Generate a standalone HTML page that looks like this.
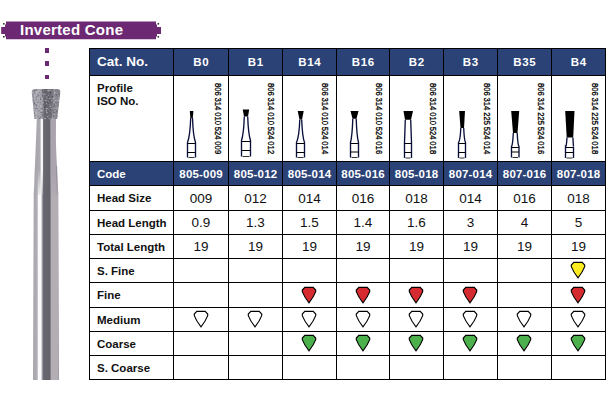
<!DOCTYPE html>
<html><head><meta charset="utf-8"><style>
html,body{margin:0;padding:0;background:#fff;}
body{width:612px;height:400px;position:relative;overflow:hidden;font-family:"Liberation Sans",sans-serif;}
.a{position:absolute;}
.hl{position:absolute;height:1px;background:#000;}
.vl{position:absolute;width:1px;background:#000;}
.c{position:absolute;display:flex;align-items:center;justify-content:center;white-space:nowrap;}
.lab{position:absolute;font-weight:bold;font-size:11.5px;color:#111;white-space:nowrap;}
.val{font-size:13.5px;color:#111;}
.hd{font-weight:bold;font-size:11.5px;letter-spacing:0.6px;text-indent:0.6px;color:#fff;}
.cd{font-weight:bold;font-size:11.5px;letter-spacing:0.2px;text-indent:0.2px;padding-top:1px;box-sizing:border-box;color:#fff;}
.iso{position:absolute;font-size:9px;line-height:10px;font-weight:normal;color:#000;-webkit-text-stroke:0.3px #000;word-spacing:-0.35px;white-space:nowrap;transform-origin:0 0;transform:rotate(90deg) scaleX(0.85);}
</style></head><body>

<svg class="a" style="left:0;top:0" width="170" height="45" viewBox="0 0 170 45">
<path d="M6 21.5 H156 V24.5 H157 V27 H161 V34 H157 V36.5 H156 V39.3 H6 V36.5 H5 V34 H1.2 V27 H5 V24.5 H6 Z" fill="#6c2872"/>
<rect x="3" y="23" width="1.6" height="1.6" fill="#333"/>
<rect x="3" y="36" width="1.6" height="1.6" fill="#333"/>
<rect x="157.5" y="23" width="1.6" height="1.6" fill="#333"/>
<rect x="157.5" y="36" width="1.6" height="1.6" fill="#333"/>
</svg>
<div class="a" style="left:20px;top:21px;font-size:15px;letter-spacing:0.25px;font-weight:bold;color:#fff;line-height:18px;">Inverted Cone</div>
<div class="a" style="left:45px;top:48px;width:4px;height:5px;background:#6c2872"></div>
<div class="a" style="left:45px;top:61px;width:4px;height:5px;background:#6c2872"></div>
<div class="a" style="left:45px;top:75px;width:4px;height:4px;background:#6c2872"></div>
<svg class="a" style="left:0;top:80px" width="90" height="310" viewBox="0 80 90 310">
<defs>
<linearGradient id="sh" x1="33" x2="59" y1="0" y2="0" gradientUnits="userSpaceOnUse">
<stop offset="0.0000" stop-color="#a8a8aa"/>
<stop offset="0.0885" stop-color="#adadb0"/>
<stop offset="0.1000" stop-color="#aca6b0"/>
<stop offset="0.1692" stop-color="#b8b4bc"/>
<stop offset="0.1885" stop-color="#fafafa"/>
<stop offset="0.3077" stop-color="#fafafa"/>
<stop offset="0.3385" stop-color="#c4c0c8"/>
<stop offset="0.3769" stop-color="#8a8692"/>
<stop offset="0.4077" stop-color="#67656d"/>
<stop offset="0.6538" stop-color="#64626a"/>
<stop offset="0.6769" stop-color="#8a8690"/>
<stop offset="0.7115" stop-color="#b2aeb4"/>
<stop offset="0.9538" stop-color="#b2aeb4"/>
<stop offset="0.9808" stop-color="#a09aa6"/>
<stop offset="1.0000" stop-color="#9c98a0"/>
</linearGradient>
<linearGradient id="nk" x1="36" x2="57" y1="0" y2="0" gradientUnits="userSpaceOnUse">
<stop offset="0" stop-color="#a8a6ac"/>
<stop offset="0.205" stop-color="#aeacb2"/>
<stop offset="0.23" stop-color="#f6f6f6"/>
<stop offset="0.32" stop-color="#f6f6f6"/>
<stop offset="0.36" stop-color="#6a6870"/>
<stop offset="0.67" stop-color="#636169"/>
<stop offset="0.70" stop-color="#aaa3b0"/>
<stop offset="0.93" stop-color="#aaa3b0"/>
<stop offset="1" stop-color="#8a8290"/>
</linearGradient>
<linearGradient id="hg" x1="32" x2="60" y1="0" y2="0" gradientUnits="userSpaceOnUse">
<stop offset="0" stop-color="#8e8c94"/>
<stop offset="0.15" stop-color="#aaa8b0"/>
<stop offset="0.35" stop-color="#a09ea6"/>
<stop offset="0.45" stop-color="#66646c"/>
<stop offset="0.65" stop-color="#6a6870"/>
<stop offset="0.78" stop-color="#8c8a92"/>
<stop offset="1" stop-color="#85838b"/>
</linearGradient>
<filter id="grit" x="0" y="0" width="1" height="1" color-interpolation-filters="sRGB">
<feTurbulence type="fractalNoise" baseFrequency="0.5" numOctaves="2" seed="11" result="n"/>
<feColorMatrix type="matrix" in="n" values="0 0 0 0 0.3  0 0 0 0 0.29  0 0 0 0 0.33  0 0 0 -3.5 1.75" result="d"/>
<feColorMatrix type="matrix" in="n" values="0 0 0 0 0.78  0 0 0 0 0.77  0 0 0 0 0.8  3.5 0 0 0 -1.75" result="l"/>
<feMerge><feMergeNode in="d"/><feMergeNode in="l"/></feMerge>
</filter>
<linearGradient id="nmg" x1="0" x2="0" y1="170" y2="200" gradientUnits="userSpaceOnUse"><stop offset="0" stop-color="#fff"/><stop offset="1" stop-color="#000"/></linearGradient>
<mask id="nm" maskUnits="userSpaceOnUse" x="0" y="80" width="90" height="310"><rect x="0" y="80" width="90" height="310" fill="url(#nmg)"/></mask>
<clipPath id="hc"><path d="M35 89 H57.3 Q60.4 89 60.3 92.2 L57.2 119 H34.4 L31.8 92.2 Q31.8 89 35 89 Z"/></clipPath>
</defs>
<path d="M35 166 Q35 180 33.7 194 L33 380 H59 L58.3 194 Q57.4 180 57.2 166 Z" fill="url(#sh)"/>
<path d="M36.8 118 H56 L55.9 140 Q56.4 165 58.3 195 H33.7 Q35 165 36 140 Z" fill="url(#nk)" mask="url(#nm)"/>
<path d="M35 89 H57.3 Q60.4 89 60.3 92.2 L57.2 119 H34.4 L31.8 92.2 Q31.8 89 35 89 Z" fill="url(#hg)"/>
<g clip-path="url(#hc)" opacity="0.75"><rect x="30" y="86" width="32" height="34" fill="#000" filter="url(#grit)"/></g>
</svg>
<div class="a" style="left:89px;top:48px;width:516px;height:27px;background:#2b4276"></div>
<div class="a" style="left:89px;top:161px;width:516px;height:24px;background:#2b4276"></div>
<div class="hl" style="left:89px;top:48px;width:517px"></div>
<div class="hl" style="left:89px;top:75px;width:517px"></div>
<div class="hl" style="left:89px;top:161px;width:517px"></div>
<div class="hl" style="left:89px;top:185px;width:517px"></div>
<div class="hl" style="left:89px;top:210px;width:517px"></div>
<div class="hl" style="left:89px;top:234px;width:517px"></div>
<div class="hl" style="left:89px;top:258px;width:517px"></div>
<div class="hl" style="left:89px;top:282px;width:517px"></div>
<div class="hl" style="left:89px;top:307px;width:517px"></div>
<div class="hl" style="left:89px;top:331px;width:517px"></div>
<div class="hl" style="left:89px;top:355px;width:517px"></div>
<div class="hl" style="left:89px;top:379px;width:517px"></div>
<div class="vl" style="left:89px;top:48px;height:332px"></div>
<div class="vl" style="left:173px;top:48px;height:332px"></div>
<div class="vl" style="left:228px;top:48px;height:332px"></div>
<div class="vl" style="left:282px;top:48px;height:332px"></div>
<div class="vl" style="left:336px;top:48px;height:332px"></div>
<div class="vl" style="left:389px;top:48px;height:332px"></div>
<div class="vl" style="left:443px;top:48px;height:332px"></div>
<div class="vl" style="left:497px;top:48px;height:332px"></div>
<div class="vl" style="left:551px;top:48px;height:332px"></div>
<div class="vl" style="left:605px;top:48px;height:332px"></div>
<div class="a" style="left:97px;top:54px;font-size:13.5px;font-weight:bold;color:#fff;line-height:16px">Cat. No.</div>
<div class="c hd" style="left:174px;top:49px;width:54px;height:26px">B0</div>
<div class="c hd" style="left:229px;top:49px;width:53px;height:26px">B1</div>
<div class="c hd" style="left:283px;top:49px;width:53px;height:26px">B14</div>
<div class="c hd" style="left:337px;top:49px;width:52px;height:26px">B16</div>
<div class="c hd" style="left:390px;top:49px;width:53px;height:26px">B2</div>
<div class="c hd" style="left:444px;top:49px;width:53px;height:26px">B3</div>
<div class="c hd" style="left:498px;top:49px;width:53px;height:26px">B35</div>
<div class="c hd" style="left:552px;top:49px;width:53px;height:26px">B4</div>
<div class="lab" style="left:97px;top:82px;line-height:13px">Profile<br>ISO No.</div>
<div class="iso" style="left:222.6px;top:82.5px">806 314 010 524 009</div>
<svg class="a" style="left:173px;top:100px" width="40" height="60" viewBox="0 100 40 60"><path d="M16.8 111.0 H20.4 L19.8 118.0 H17.4 Z" fill="#000"/><path d="M17.7 118.0 Q17.1 135.8 14.5 142.5 V157.5" fill="none" stroke="#0a103c" stroke-width="1.35"/><path d="M19.5 118.0 Q20.1 135.8 22.5 142.5 V157.5" fill="none" stroke="#0a103c" stroke-width="1.35"/><path d="M14.5 143.5 H22.5 M14.5 152.5 H22.5" stroke="#000" stroke-width="1.1" fill="none"/><path d="M15.5 157.5 H21.5" stroke="#333" stroke-width="1" fill="none"/></svg>
<div class="iso" style="left:275.6px;top:82.5px">806 314 010 524 012</div>
<svg class="a" style="left:228px;top:100px" width="40" height="60" viewBox="0 100 40 60"><path d="M14.7 109.5 H21.2 L20.0 116.5 H16.0 Z" fill="#000"/><path d="M16.3 116.5 Q15.7 134.0 13.5 140.5 V156.5" fill="none" stroke="#0a103c" stroke-width="1.35"/><path d="M19.7 116.5 Q20.3 134.0 22.5 140.5 V156.5" fill="none" stroke="#0a103c" stroke-width="1.35"/><path d="M13.5 141.5 H22.5 M13.5 150.5 H22.5" stroke="#000" stroke-width="1.1" fill="none"/><path d="M14.5 156.5 H21.5" stroke="#333" stroke-width="1" fill="none"/></svg>
<div class="iso" style="left:329.6px;top:82.5px">806 314 010 524 014</div>
<svg class="a" style="left:282px;top:100px" width="40" height="60" viewBox="0 100 40 60"><path d="M15.7 111.0 H21.7 L20.0 119.5 H17.5 Z" fill="#000"/><path d="M17.8 119.5 Q17.2 136.5 14.5 142.5 V157.5" fill="none" stroke="#0a103c" stroke-width="1.35"/><path d="M19.7 119.5 Q20.3 136.5 22.5 142.5 V157.5" fill="none" stroke="#0a103c" stroke-width="1.35"/><path d="M14.5 143.5 H22.5 M14.5 152.5 H22.5" stroke="#000" stroke-width="1.1" fill="none"/><path d="M15.5 157.5 H21.5" stroke="#333" stroke-width="1" fill="none"/></svg>
<div class="iso" style="left:383.6px;top:82.5px">806 314 010 524 016</div>
<svg class="a" style="left:336px;top:100px" width="40" height="60" viewBox="0 100 40 60"><path d="M14.5 111.0 H22.5 L20.5 118.7 H16.5 Z" fill="#000"/><path d="M16.8 118.7 Q16.2 136.1 14.5 142.5 V157.5" fill="none" stroke="#0a103c" stroke-width="1.35"/><path d="M20.2 118.7 Q20.8 136.1 22.5 142.5 V157.5" fill="none" stroke="#0a103c" stroke-width="1.35"/><path d="M14.5 143.5 H22.5 M14.5 152.0 H22.5" stroke="#000" stroke-width="1.1" fill="none"/><path d="M15.5 157.5 H21.5" stroke="#333" stroke-width="1" fill="none"/></svg>
<div class="iso" style="left:437.6px;top:82.5px">806 314 010 524 018</div>
<svg class="a" style="left:389px;top:100px" width="40" height="60" viewBox="0 100 40 60"><path d="M14.5 111.0 H24.0 L22.0 119.8 H16.0 Z" fill="#000"/><path d="M16.3 119.8 Q15.7 136.7 15.5 142.5 V158.0" fill="none" stroke="#0a103c" stroke-width="1.35"/><path d="M21.7 119.8 Q22.3 136.7 22.5 142.5 V158.0" fill="none" stroke="#0a103c" stroke-width="1.35"/><path d="M15.5 143.5 H22.5 M15.5 152.5 H22.5" stroke="#000" stroke-width="1.1" fill="none"/><path d="M16.5 158.0 H21.5" stroke="#333" stroke-width="1" fill="none"/></svg>
<div class="iso" style="left:491.6px;top:82.5px">806 314 225 524 014</div>
<svg class="a" style="left:443px;top:100px" width="40" height="60" viewBox="0 100 40 60"><path d="M16.2 111.0 H22.0 L21.0 128.0 H17.5 Z" fill="#000"/><path d="M17.8 128.0 Q17.2 140.8 15.5 142.5 V158.0" fill="none" stroke="#0a103c" stroke-width="1.35"/><path d="M20.7 128.0 Q21.3 140.8 22.5 142.5 V158.0" fill="none" stroke="#0a103c" stroke-width="1.35"/><path d="M15.5 143.5 H22.5 M15.5 152.5 H22.5" stroke="#000" stroke-width="1.1" fill="none"/><path d="M16.5 158.0 H21.5" stroke="#333" stroke-width="1" fill="none"/></svg>
<div class="iso" style="left:545.6px;top:82.5px">806 314 225 524 016</div>
<svg class="a" style="left:497px;top:100px" width="40" height="60" viewBox="0 100 40 60"><path d="M14.2 111.0 H22.2 L20.5 133.0 H16.0 Z" fill="#000"/><path d="M16.3 133.0 Q15.7 145.2 14.5 146.5 V157.5" fill="none" stroke="#0a103c" stroke-width="1.35"/><path d="M20.2 133.0 Q20.8 145.2 22.0 146.5 V157.5" fill="none" stroke="#0a103c" stroke-width="1.35"/><path d="M14.5 147.5 H22.0 M14.5 152.0 H22.0" stroke="#000" stroke-width="1.1" fill="none"/><path d="M15.5 157.5 H21.0" stroke="#333" stroke-width="1" fill="none"/></svg>
<div class="iso" style="left:599.6px;top:82.5px">806 314 225 524 018</div>
<svg class="a" style="left:551px;top:100px" width="40" height="60" viewBox="0 100 40 60"><path d="M14.2 111.0 H23.5 L22.2 137.5 H15.7 Z" fill="#000"/><path d="M16.0 137.5 Q15.4 147.5 14.5 146.5 V158.0" fill="none" stroke="#0a103c" stroke-width="1.35"/><path d="M21.9 137.5 Q22.5 147.5 22.5 146.5 V158.0" fill="none" stroke="#0a103c" stroke-width="1.35"/><path d="M14.5 147.5 H22.5 M14.5 152.5 H22.5" stroke="#000" stroke-width="1.1" fill="none"/><path d="M15.5 158.0 H21.5" stroke="#333" stroke-width="1" fill="none"/></svg>
<div class="a" style="left:97px;top:168px;font-size:11.5px;font-weight:bold;color:#fff;line-height:13px">Code</div>
<div class="c cd" style="left:174px;top:162px;width:54px;height:23px">805-009</div>
<div class="c cd" style="left:229px;top:162px;width:53px;height:23px">805-012</div>
<div class="c cd" style="left:283px;top:162px;width:53px;height:23px">805-014</div>
<div class="c cd" style="left:337px;top:162px;width:52px;height:23px">805-016</div>
<div class="c cd" style="left:390px;top:162px;width:53px;height:23px">805-018</div>
<div class="c cd" style="left:444px;top:162px;width:53px;height:23px">807-014</div>
<div class="c cd" style="left:498px;top:162px;width:53px;height:23px">807-016</div>
<div class="c cd" style="left:552px;top:162px;width:53px;height:23px">807-018</div>
<div class="c lab" style="left:97px;top:186px;height:24px;justify-content:flex-start">Head Size</div>
<div class="c val" style="left:174px;top:186px;width:54px;height:24px">009</div>
<div class="c val" style="left:229px;top:186px;width:53px;height:24px">012</div>
<div class="c val" style="left:283px;top:186px;width:53px;height:24px">014</div>
<div class="c val" style="left:337px;top:186px;width:52px;height:24px">016</div>
<div class="c val" style="left:390px;top:186px;width:53px;height:24px">018</div>
<div class="c val" style="left:444px;top:186px;width:53px;height:24px">014</div>
<div class="c val" style="left:498px;top:186px;width:53px;height:24px">016</div>
<div class="c val" style="left:552px;top:186px;width:53px;height:24px">018</div>
<div class="c lab" style="left:97px;top:211px;height:23px;justify-content:flex-start">Head Length</div>
<div class="c val" style="left:174px;top:211px;width:54px;height:23px">0.9</div>
<div class="c val" style="left:229px;top:211px;width:53px;height:23px">1.3</div>
<div class="c val" style="left:283px;top:211px;width:53px;height:23px">1.5</div>
<div class="c val" style="left:337px;top:211px;width:52px;height:23px">1.4</div>
<div class="c val" style="left:390px;top:211px;width:53px;height:23px">1.6</div>
<div class="c val" style="left:444px;top:211px;width:53px;height:23px">3</div>
<div class="c val" style="left:498px;top:211px;width:53px;height:23px">4</div>
<div class="c val" style="left:552px;top:211px;width:53px;height:23px">5</div>
<div class="c lab" style="left:97px;top:235px;height:23px;justify-content:flex-start">Total Length</div>
<div class="c val" style="left:174px;top:235px;width:54px;height:23px">19</div>
<div class="c val" style="left:229px;top:235px;width:53px;height:23px">19</div>
<div class="c val" style="left:283px;top:235px;width:53px;height:23px">19</div>
<div class="c val" style="left:337px;top:235px;width:52px;height:23px">19</div>
<div class="c val" style="left:390px;top:235px;width:53px;height:23px">19</div>
<div class="c val" style="left:444px;top:235px;width:53px;height:23px">19</div>
<div class="c val" style="left:498px;top:235px;width:53px;height:23px">19</div>
<div class="c val" style="left:552px;top:235px;width:53px;height:23px">19</div>
<div class="c lab" style="left:97px;top:259px;height:23px;justify-content:flex-start">S. Fine</div>
<svg class="a" style="left:568.3px;top:259.4px" width="20" height="22" viewBox="-10 -11 20 22"><path d="M-4.2 -7.7 H4.2 L6.7 -5.0 L6.7 -3.4 Q4.6 2.2 0 7.8 Q-4.6 2.2 -6.7 -3.4 L-6.7 -5.0 Z" fill="#fbeb1f" stroke="#000" stroke-width="1.15" stroke-linejoin="miter"/></svg>
<div class="c lab" style="left:97px;top:283px;height:24px;justify-content:flex-start">Fine</div>
<svg class="a" style="left:299.3px;top:283.9px" width="20" height="22" viewBox="-10 -11 20 22"><path d="M-4.2 -7.7 H4.2 L6.7 -5.0 L6.7 -3.4 Q4.6 2.2 0 7.8 Q-4.6 2.2 -6.7 -3.4 L-6.7 -5.0 Z" fill="#d52b30" stroke="#000" stroke-width="1.15" stroke-linejoin="miter"/></svg>
<svg class="a" style="left:352.8px;top:283.9px" width="20" height="22" viewBox="-10 -11 20 22"><path d="M-4.2 -7.7 H4.2 L6.7 -5.0 L6.7 -3.4 Q4.6 2.2 0 7.8 Q-4.6 2.2 -6.7 -3.4 L-6.7 -5.0 Z" fill="#d52b30" stroke="#000" stroke-width="1.15" stroke-linejoin="miter"/></svg>
<svg class="a" style="left:406.3px;top:283.9px" width="20" height="22" viewBox="-10 -11 20 22"><path d="M-4.2 -7.7 H4.2 L6.7 -5.0 L6.7 -3.4 Q4.6 2.2 0 7.8 Q-4.6 2.2 -6.7 -3.4 L-6.7 -5.0 Z" fill="#d52b30" stroke="#000" stroke-width="1.15" stroke-linejoin="miter"/></svg>
<svg class="a" style="left:460.3px;top:283.9px" width="20" height="22" viewBox="-10 -11 20 22"><path d="M-4.2 -7.7 H4.2 L6.7 -5.0 L6.7 -3.4 Q4.6 2.2 0 7.8 Q-4.6 2.2 -6.7 -3.4 L-6.7 -5.0 Z" fill="#d52b30" stroke="#000" stroke-width="1.15" stroke-linejoin="miter"/></svg>
<svg class="a" style="left:568.3px;top:283.9px" width="20" height="22" viewBox="-10 -11 20 22"><path d="M-4.2 -7.7 H4.2 L6.7 -5.0 L6.7 -3.4 Q4.6 2.2 0 7.8 Q-4.6 2.2 -6.7 -3.4 L-6.7 -5.0 Z" fill="#d52b30" stroke="#000" stroke-width="1.15" stroke-linejoin="miter"/></svg>
<div class="c lab" style="left:97px;top:308px;height:23px;justify-content:flex-start">Medium</div>
<svg class="a" style="left:190.8px;top:308.0px" width="20" height="22" viewBox="-10 -11 20 22"><path d="M-4.2 -7.7 H4.2 L6.7 -5.0 L6.7 -3.4 Q4.6 2.2 0 7.8 Q-4.6 2.2 -6.7 -3.4 L-6.7 -5.0 Z" fill="#ffffff" stroke="#000" stroke-width="1.15" stroke-linejoin="miter"/></svg>
<svg class="a" style="left:245.3px;top:308.0px" width="20" height="22" viewBox="-10 -11 20 22"><path d="M-4.2 -7.7 H4.2 L6.7 -5.0 L6.7 -3.4 Q4.6 2.2 0 7.8 Q-4.6 2.2 -6.7 -3.4 L-6.7 -5.0 Z" fill="#ffffff" stroke="#000" stroke-width="1.15" stroke-linejoin="miter"/></svg>
<svg class="a" style="left:299.3px;top:308.0px" width="20" height="22" viewBox="-10 -11 20 22"><path d="M-4.2 -7.7 H4.2 L6.7 -5.0 L6.7 -3.4 Q4.6 2.2 0 7.8 Q-4.6 2.2 -6.7 -3.4 L-6.7 -5.0 Z" fill="#ffffff" stroke="#000" stroke-width="1.15" stroke-linejoin="miter"/></svg>
<svg class="a" style="left:352.8px;top:308.0px" width="20" height="22" viewBox="-10 -11 20 22"><path d="M-4.2 -7.7 H4.2 L6.7 -5.0 L6.7 -3.4 Q4.6 2.2 0 7.8 Q-4.6 2.2 -6.7 -3.4 L-6.7 -5.0 Z" fill="#ffffff" stroke="#000" stroke-width="1.15" stroke-linejoin="miter"/></svg>
<svg class="a" style="left:406.3px;top:308.0px" width="20" height="22" viewBox="-10 -11 20 22"><path d="M-4.2 -7.7 H4.2 L6.7 -5.0 L6.7 -3.4 Q4.6 2.2 0 7.8 Q-4.6 2.2 -6.7 -3.4 L-6.7 -5.0 Z" fill="#ffffff" stroke="#000" stroke-width="1.15" stroke-linejoin="miter"/></svg>
<svg class="a" style="left:460.3px;top:308.0px" width="20" height="22" viewBox="-10 -11 20 22"><path d="M-4.2 -7.7 H4.2 L6.7 -5.0 L6.7 -3.4 Q4.6 2.2 0 7.8 Q-4.6 2.2 -6.7 -3.4 L-6.7 -5.0 Z" fill="#ffffff" stroke="#000" stroke-width="1.15" stroke-linejoin="miter"/></svg>
<svg class="a" style="left:514.3px;top:308.0px" width="20" height="22" viewBox="-10 -11 20 22"><path d="M-4.2 -7.7 H4.2 L6.7 -5.0 L6.7 -3.4 Q4.6 2.2 0 7.8 Q-4.6 2.2 -6.7 -3.4 L-6.7 -5.0 Z" fill="#ffffff" stroke="#000" stroke-width="1.15" stroke-linejoin="miter"/></svg>
<svg class="a" style="left:568.3px;top:308.0px" width="20" height="22" viewBox="-10 -11 20 22"><path d="M-4.2 -7.7 H4.2 L6.7 -5.0 L6.7 -3.4 Q4.6 2.2 0 7.8 Q-4.6 2.2 -6.7 -3.4 L-6.7 -5.0 Z" fill="#ffffff" stroke="#000" stroke-width="1.15" stroke-linejoin="miter"/></svg>
<div class="c lab" style="left:97px;top:332px;height:23px;justify-content:flex-start">Coarse</div>
<svg class="a" style="left:299.3px;top:332.4px" width="20" height="22" viewBox="-10 -11 20 22"><path d="M-4.2 -7.7 H4.2 L6.7 -5.0 L6.7 -3.4 Q4.6 2.2 0 7.8 Q-4.6 2.2 -6.7 -3.4 L-6.7 -5.0 Z" fill="#4cb04c" stroke="#000" stroke-width="1.15" stroke-linejoin="miter"/></svg>
<svg class="a" style="left:352.8px;top:332.4px" width="20" height="22" viewBox="-10 -11 20 22"><path d="M-4.2 -7.7 H4.2 L6.7 -5.0 L6.7 -3.4 Q4.6 2.2 0 7.8 Q-4.6 2.2 -6.7 -3.4 L-6.7 -5.0 Z" fill="#4cb04c" stroke="#000" stroke-width="1.15" stroke-linejoin="miter"/></svg>
<svg class="a" style="left:406.3px;top:332.4px" width="20" height="22" viewBox="-10 -11 20 22"><path d="M-4.2 -7.7 H4.2 L6.7 -5.0 L6.7 -3.4 Q4.6 2.2 0 7.8 Q-4.6 2.2 -6.7 -3.4 L-6.7 -5.0 Z" fill="#4cb04c" stroke="#000" stroke-width="1.15" stroke-linejoin="miter"/></svg>
<svg class="a" style="left:460.3px;top:332.4px" width="20" height="22" viewBox="-10 -11 20 22"><path d="M-4.2 -7.7 H4.2 L6.7 -5.0 L6.7 -3.4 Q4.6 2.2 0 7.8 Q-4.6 2.2 -6.7 -3.4 L-6.7 -5.0 Z" fill="#4cb04c" stroke="#000" stroke-width="1.15" stroke-linejoin="miter"/></svg>
<svg class="a" style="left:514.3px;top:332.4px" width="20" height="22" viewBox="-10 -11 20 22"><path d="M-4.2 -7.7 H4.2 L6.7 -5.0 L6.7 -3.4 Q4.6 2.2 0 7.8 Q-4.6 2.2 -6.7 -3.4 L-6.7 -5.0 Z" fill="#4cb04c" stroke="#000" stroke-width="1.15" stroke-linejoin="miter"/></svg>
<svg class="a" style="left:568.3px;top:332.4px" width="20" height="22" viewBox="-10 -11 20 22"><path d="M-4.2 -7.7 H4.2 L6.7 -5.0 L6.7 -3.4 Q4.6 2.2 0 7.8 Q-4.6 2.2 -6.7 -3.4 L-6.7 -5.0 Z" fill="#4cb04c" stroke="#000" stroke-width="1.15" stroke-linejoin="miter"/></svg>
<div class="c lab" style="left:97px;top:356px;height:23px;justify-content:flex-start">S. Coarse</div>
</body></html>
